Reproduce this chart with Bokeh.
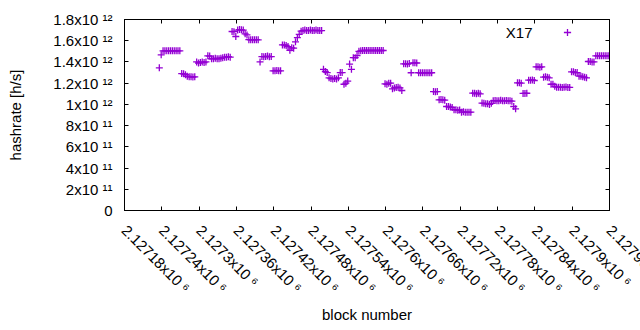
import math
from bokeh.plotting import figure
from bokeh.models import (Label, FixedTicker, LinearAxis, Legend, LegendItem, Range1d,
                          CustomJSTickFormatter)
from bokeh.embed import file_html
from bokeh.resources import INLINE

# ---------------- data ----------------
series_name = "X17"
x_title = "block number"
y_title = "hashrate [h/s]"

first_block = 2127236
block_step = 3
# hashrate in units of 1e12 h/s, one value every 3 blocks
hashrate_e12 = [
    1.345, 1.467,
    1.505, 1.505, 1.505, 1.505, 1.505, 1.505, 1.505, 1.505, 1.505, 1.505,
    1.29, 1.288, 1.28, 1.265, 1.26, 1.26, 1.258, 1.26,
    1.40, 1.39, 1.395, 1.40, 1.395, 1.40,
    1.458, 1.455,
    1.43, 1.43, 1.435, 1.43, 1.43, 1.435, 1.44,
    1.445, 1.445, 1.45, 1.445,
    1.687, 1.685, 1.64,
    1.70, 1.705, 1.703, 1.70,
    1.665, 1.655,
    1.61, 1.608, 1.608, 1.61, 1.61, 1.608,
    1.40,
    1.451, 1.45, 1.451, 1.455, 1.45, 1.451,
    1.316, 1.316, 1.32, 1.316, 1.316,
    1.56, 1.56, 1.555, 1.545,
    1.51, 1.533, 1.53,
    1.59, 1.63, 1.66,
    1.69, 1.696, 1.70, 1.696, 1.696, 1.70, 1.696, 1.696, 1.70, 1.696, 1.696, 1.696,
    1.33, 1.31,
    1.30, 1.25, 1.244, 1.24, 1.245, 1.24, 1.25, 1.30, 1.30, 1.19, 1.20, 1.22,
    1.38, 1.33,
    1.44, 1.44, 1.46,
    1.50, 1.505, 1.508, 1.508, 1.508, 1.508,
    1.508, 1.508, 1.508, 1.508, 1.508, 1.508, 1.508, 1.508,
    1.194, 1.19,
    1.20, 1.20, 1.147, 1.155, 1.16, 1.162, 1.155, 1.131,
    1.382, 1.382, 1.38, 1.385,
    1.298,
    1.392, 1.392, 1.39,
    1.298, 1.298, 1.298, 1.298, 1.298, 1.298, 1.298, 1.298,
    1.121, 1.12, 1.121,
    1.043, 1.045, 1.043, 1.04,
    0.98, 0.98, 0.975, 0.97,
    0.95, 0.949, 0.945, 0.947,
    0.927, 0.93, 0.925, 0.927, 0.925, 0.927,
    1.106, 1.106, 1.10, 1.106, 1.10,
    1.012, 1.01, 1.005, 1.005, 1.00,
    1.01,
    1.034, 1.036, 1.034, 1.034, 1.038, 1.034, 1.034, 1.036, 1.034, 1.034, 1.03,
    0.98, 0.958,
    1.203, 1.203, 1.20,
    1.103, 1.103, 1.105,
    1.228, 1.228, 1.23, 1.225,
    1.354, 1.354, 1.35, 1.354,
    1.256, 1.26, 1.256, 1.25,
    1.19, 1.19,
    1.17, 1.162, 1.162, 1.162, 1.16, 1.162, 1.165, 1.16,
    1.16,
    1.307, 1.307, 1.30, 1.30,
    1.266, 1.266, 1.26, 1.255, 1.25,
    1.404, 1.404, 1.40,
    1.40,
    1.458, 1.458, 1.458, 1.458, 1.458, 1.458, 1.458, 1.458,
]

x_ticks = [2127180, 2127240, 2127300, 2127360, 2127420, 2127480, 2127540,
           2127600, 2127660, 2127720, 2127780, 2127840, 2127900, 2127960]
x_tick_labels = ["2.12718x10 \u2076", "2.12724x10 \u2076", "2.1273x10 \u2076",
                 "2.12736x10 \u2076", "2.12742x10 \u2076", "2.12748x10 \u2076",
                 "2.12754x10 \u2076", "2.1276x10 \u2076", "2.12766x10 \u2076",
                 "2.12772x10 \u2076", "2.12778x10 \u2076", "2.12784x10 \u2076",
                 "2.1279x10 \u2076", "2.12796x10 \u2076"]

y_ticks = [0, 2e11, 4e11, 6e11, 8e11, 1e12, 1.2e12, 1.4e12, 1.6e12, 1.8e12]
y_tick_labels = ["0", "2x10 \u00b9\u00b9", "4x10 \u00b9\u00b9", "6x10 \u00b9\u00b9",
                 "8x10 \u00b9\u00b9", "1x10 \u00b9\u00b2", "1.2x10 \u00b9\u00b2",
                 "1.4x10 \u00b9\u00b2", "1.6x10 \u00b9\u00b2", "1.8x10 \u00b9\u00b2"]

X_MIN, X_MAX = 2127180, 2127960
Y_MIN, Y_MAX = 0.0, 1.8e12

blocks = [first_block + block_step * i for i in range(len(hashrate_e12))]
hashrate = [v * 1e12 for v in hashrate_e12]

# ---------------- geometry (page pixels) ----------------
# canvas is a little wider than the window so that the last rotated tick label
# runs off the right edge (as in the reference) instead of being pushed inwards
W, H = 680, 330
FL, FR, FT, FB = 124, 609, 19, 210
FONT = "Liberation Sans"
FS = "15px"
COLOR = "#9400d3"


def dx(px):
    return X_MIN + (px - FL) * (X_MAX - X_MIN) / (FR - FL)


def dy(py):
    return Y_MIN + (FB - py) * (Y_MAX - Y_MIN) / (FB - FT)


p = figure(width=W, height=H, x_range=Range1d(X_MIN, X_MAX), y_range=Range1d(Y_MIN, Y_MAX),
           output_backend="svg", toolbar_location=None,
           min_border_left=FL, min_border_right=W - FR,
           min_border_top=FT, min_border_bottom=H - FB)
p.background_fill_color = "white"
p.border_fill_color = "white"
p.outline_line_color = "black"
p.outline_line_width = 1
p.xgrid.visible = False
p.ygrid.visible = False

empty_fmt = CustomJSTickFormatter(code="return ''")


def style_axis(ax, ticks):
    ax.ticker = FixedTicker(ticks=ticks)
    ax.axis_line_color = "black"
    ax.major_tick_line_color = "black"
    ax.major_tick_in = 4
    ax.major_tick_out = 0
    ax.minor_tick_line_color = None
    ax.major_label_text_font = FONT
    ax.major_label_text_font_size = FS
    ax.major_label_text_color = "black"
    ax.axis_label_text_font = FONT
    ax.axis_label_text_font_size = FS
    ax.axis_label_text_font_style = "normal"
    ax.axis_label_text_color = "black"


xa = p.xaxis[0]
style_axis(xa, x_ticks)
xa.major_label_overrides = {t: s for t, s in zip(x_ticks, x_tick_labels)}
xa.major_label_orientation = -math.pi / 4
xa.major_label_standoff = 17
xa.axis_label = x_title
xa.axis_label_standoff = 1

ya = p.yaxis[0]
style_axis(ya, y_ticks)
ya.major_label_overrides = {t: s for t, s in zip(y_ticks, y_tick_labels)}
ya.major_label_standoff = 12
ya.axis_label = y_title
ya.axis_label_standoff = 26

ax_r = LinearAxis()
style_axis(ax_r, y_ticks)
ax_r.formatter = empty_fmt
ax_r.major_label_standoff = 0
p.add_layout(ax_r, "right")
ax_t = LinearAxis()
style_axis(ax_t, x_ticks)
ax_t.formatter = empty_fmt
ax_t.major_label_standoff = 0
p.add_layout(ax_t, "above")

r = p.scatter(blocks, hashrate, marker="cross", size=7, line_color=COLOR, line_width=1.3)

# ---------------- legend (gnuplot style: text left, sample right) ----------------
p.add_layout(Label(x=dx(532), y=dy(32), text=series_name,
                   text_align="right", text_baseline="middle",
                   text_font=FONT, text_font_size=FS, text_color="black"))
legend = Legend(items=[LegendItem(label=" ", renderers=[r])], location=(434, 169),
                padding=0, margin=0, spacing=0, glyph_width=18, glyph_height=18,
                label_standoff=0, label_width=0, label_height=0,
                label_text_font_size="1px", border_line_color=None,
                background_fill_alpha=0)
p.add_layout(legend)

open("out.html", "w").write(file_html(p, INLINE))
